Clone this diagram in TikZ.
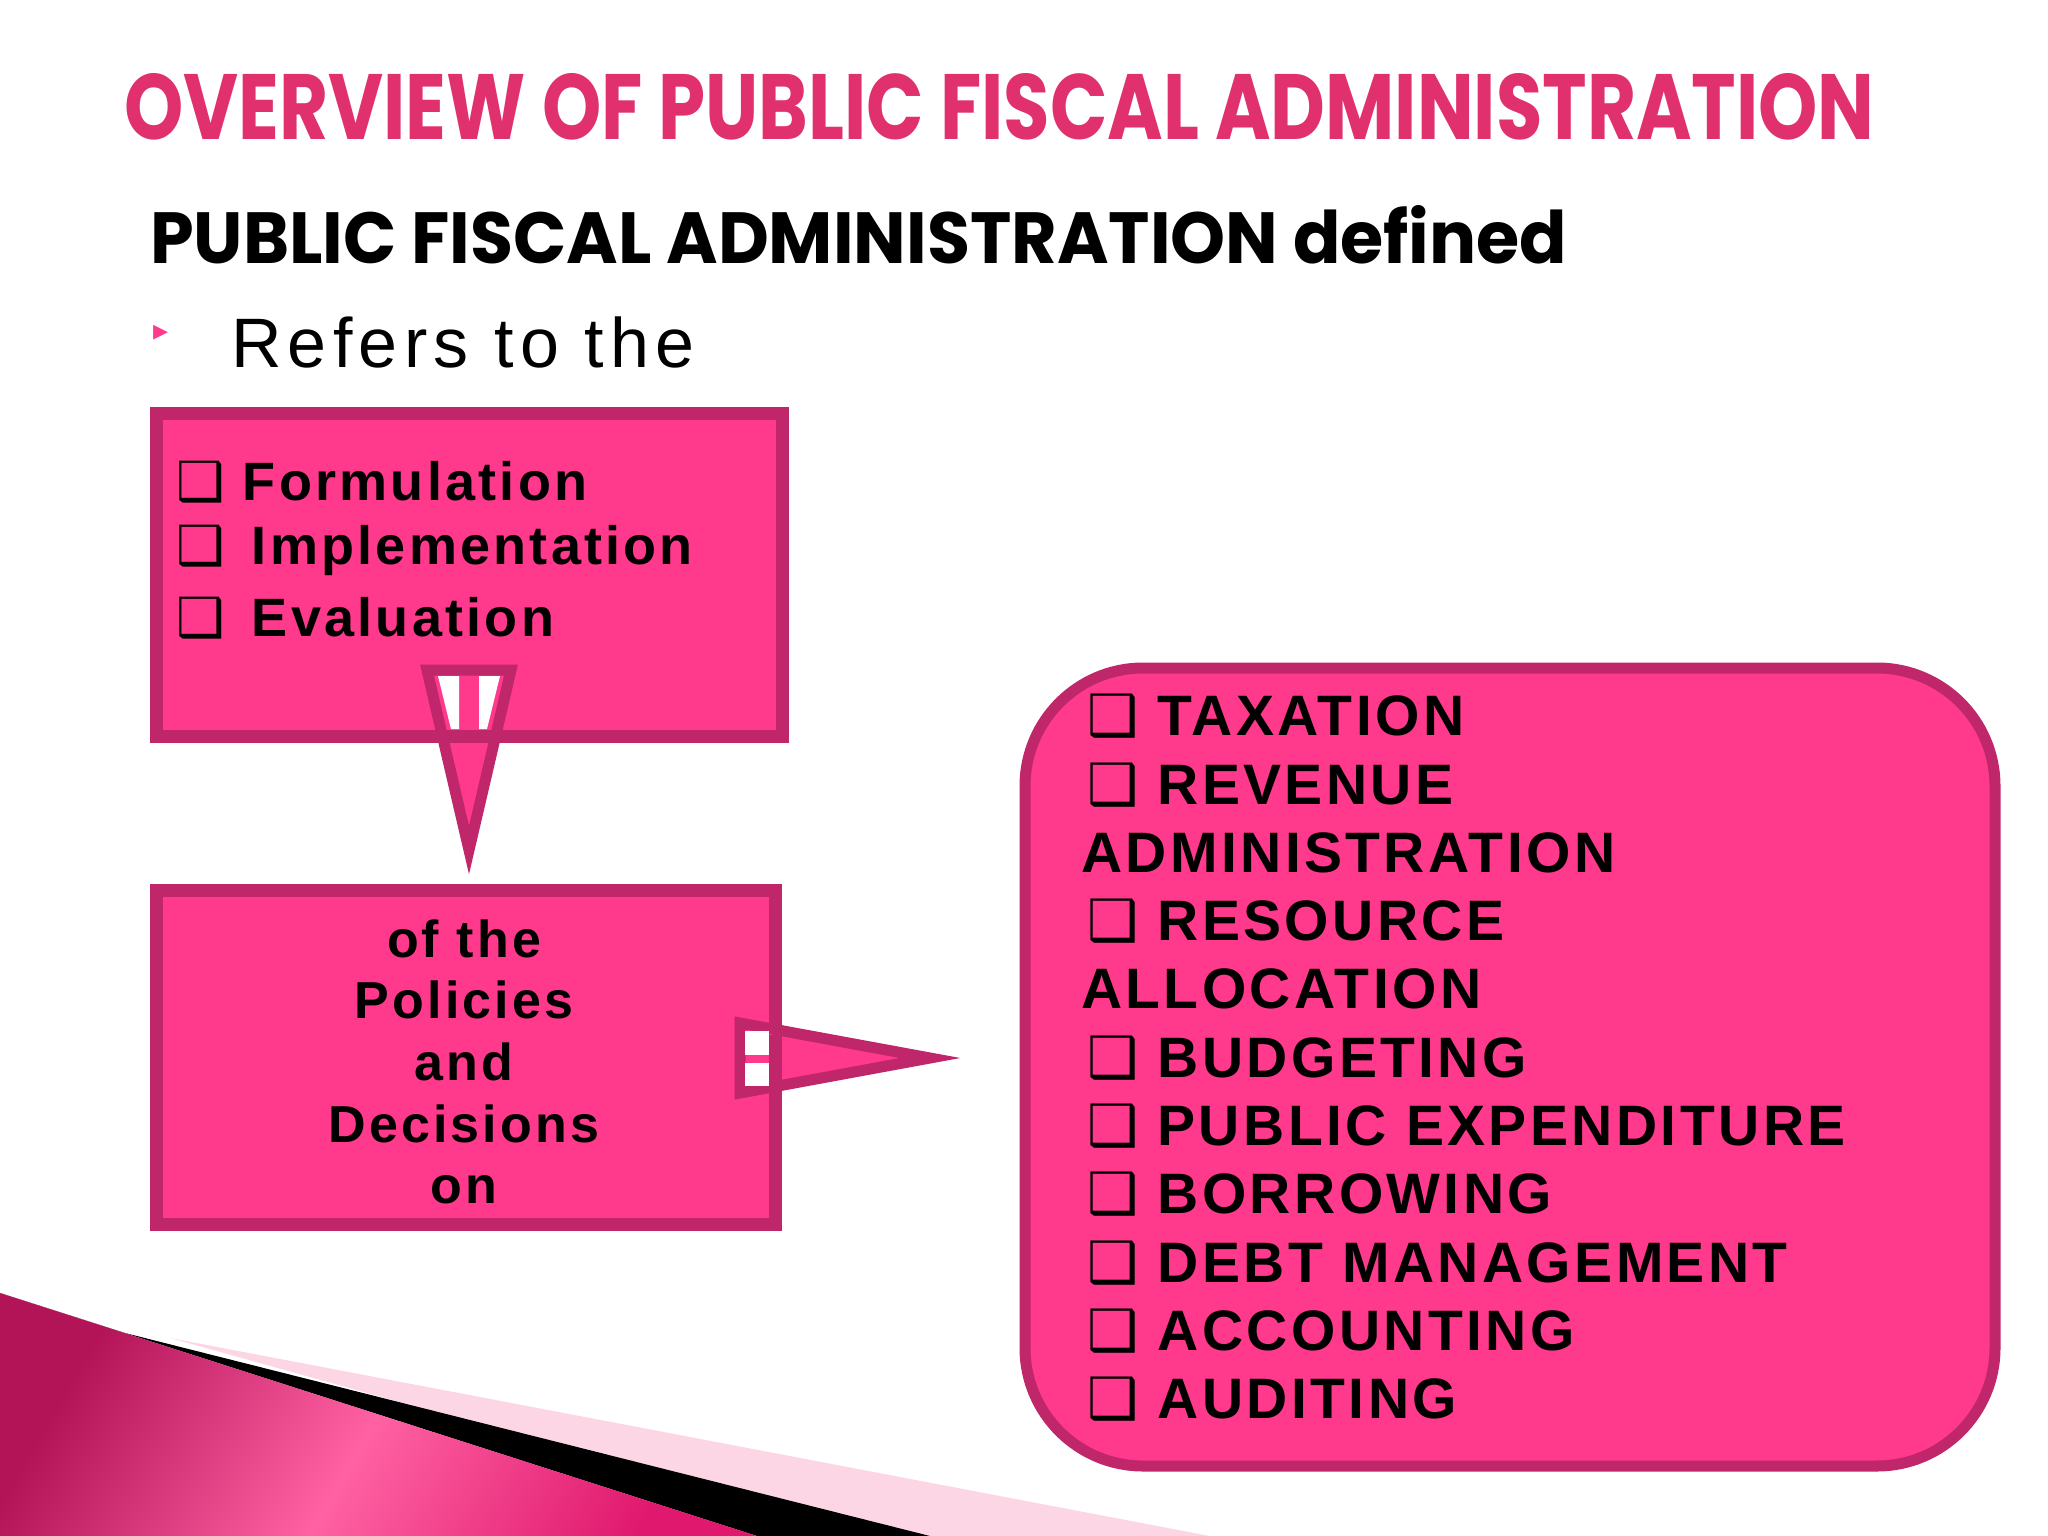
\documentclass[tikz,border=0pt]{standalone}
\usepackage{fontspec}
\setmainfont{Liberation Sans}
\newfontfamily\dispfont{Poppins}
\newfontfamily\symfont{DejaVu Sans}
\newfontfamily\spfont[LetterSpace=6]{Liberation Sans}
\newfontfamily\spwfont[LetterSpace=9]{Liberation Sans}
\usetikzlibrary{shadings}
\definecolor{pfill}{HTML}{FF3A8C}
\definecolor{pborder}{HTML}{C0266A}
\definecolor{ptitle}{HTML}{E0306E}
\definecolor{pmag}{HTML}{E0196E}
\definecolor{plight}{HTML}{FDD6E6}
\newcommand{\cb}{{\symfont ❑}}
\tikzset{
  pbox/.style={draw=pborder,line width=13pt,fill=pfill},
  btxt/.style={font=\spfont\fontsize{54}{62}\selectfont\bfseries,text=black},
  rtxt/.style={font=\spfont\fontsize{57}{68.3}\selectfont\bfseries,text=black,align=left,anchor=north west,inner sep=0pt}
}
\begin{document}
\begin{tikzpicture}[x=1pt,y=-1pt]
\useasboundingbox (0,0) rectangle (2048,1536);
% bottom-left decoration
\fill[plight] (170,1338) -- (1210,1536) -- (880,1536) -- cycle;
\fill[black] (0,1293) -- (125,1333) -- (930,1536) -- (757,1536) -- cycle;
\shade[left color=pmag!80!black,right color=pmag,middle color=pfill!80!white,shading angle=60]
  (0,1293) -- (757,1536) -- (0,1536) -- cycle;
% title
\node[anchor=west,inner sep=0pt,text=ptitle] (title) at (124,107)
  {\resizebox{1750pt}{66pt}{\dispfont\bfseries OVERVIEW OF PUBLIC FISCAL ADMINISTRATION}};
\node[anchor=west,inner sep=0pt] (sub) at (150,235)
  {\resizebox{1417pt}{58pt}{\dispfont\bfseries PUBLIC FISCAL ADMINISTRATION defined}};
\node[text=pfill,font=\fontsize{30}{30}\selectfont\symfont,inner sep=0pt] (bul) at (161,333) {▸};
\node[anchor=west,inner sep=0pt,font=\spwfont\fontsize{70}{70}\selectfont] (refers) at (231,342) {Refers to the};
% box 1
\draw[pbox] (156,413) rectangle (782,736);
\node[btxt,anchor=west,inner sep=0pt] (f1) at (176,482) {\cb\ Formulation};
\node[btxt,anchor=west,inner sep=0pt] (f2) at (176,550) {\cb\ \,Implementation};
\node[btxt,anchor=west,inner sep=0pt] (f3) at (176,618) {\cb\ \,Evaluation};
% down arrow
\draw[pborder,line width=11pt,fill=pfill,line join=miter] (427,670) -- (511,670) -- (469,850) -- cycle;
\fill[white] (438,676) -- (459,676) -- (459,729) -- (451,729) -- cycle;
\fill[white] (479,676) -- (500,676) -- (487,729) -- (479,729) -- cycle;
\draw[pborder,line width=13pt] (430,736) -- (508,736);
% box 2
\draw[pbox] (156,890) rectangle (775,1224);
\node[btxt,align=center,font=\spfont\fontsize{52}{61.7}\selectfont\bfseries] (b2) at (464,1062)
  {of the\\Policies\\and\\Decisions\\on};
% right arrow
\draw[pborder,line width=11pt,fill=pfill,line join=miter] (740,1023) -- (740,1093) -- (930,1058) -- cycle;
\fill[white] (745,1031) rectangle (769,1055);
\fill[white] (745,1063) rectangle (769,1086);
\draw[pborder,line width=13pt] (775,1035) -- (775,1082);
% box 3
\draw[draw=pborder,line width=11pt,fill=pfill,rounded corners=118pt] (1025,668) rectangle (1995,1466);
\node[rtxt] (list) at (1081,694) {%
\hspace*{6pt}\cb\ TAXATION\\
\hspace*{6pt}\cb\ REVENUE\\
ADMINISTRATION\\
\hspace*{6pt}\cb\ RESOURCE\\
ALLOCATION\\
\hspace*{6pt}\cb\ BUDGETING\\
\hspace*{6pt}\cb\ PUBLIC EXPENDITURE\\
\hspace*{6pt}\cb\ BORROWING\\
\hspace*{6pt}\cb\ DEBT MANAGEMENT\\
\hspace*{6pt}\cb\ ACCOUNTING\\
\hspace*{6pt}\cb\ AUDITING};
\end{tikzpicture}
\end{document}
